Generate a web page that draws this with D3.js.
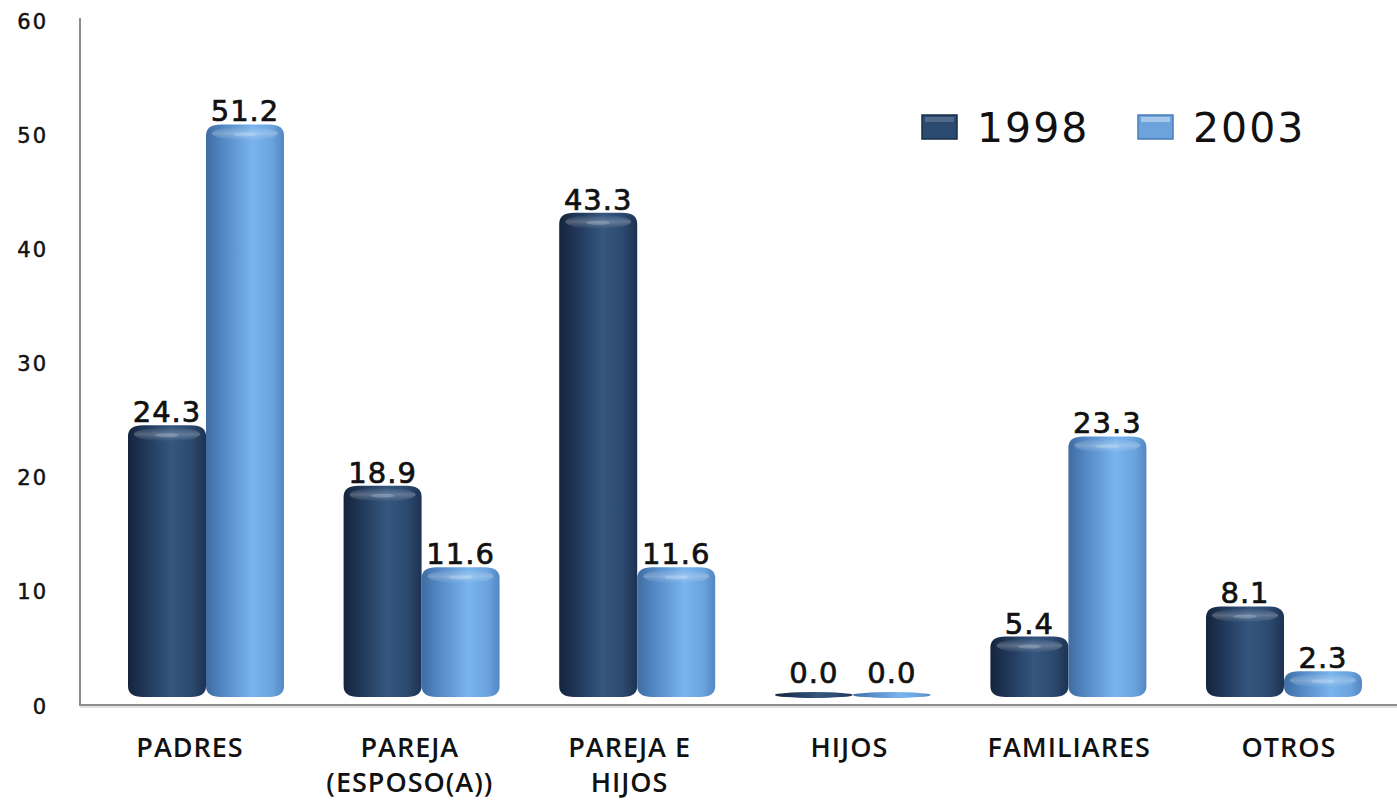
<!DOCTYPE html>
<html><head><meta charset="utf-8">
<script src="https://cdn.jsdelivr.net/npm/d3@7"></script>
<style>body{margin:0;background:#fff}svg{display:block}</style>
</head><body>
<svg id="c" width="1397" height="803"></svg>
<script>
const categories = [["PADRES"],["PAREJA","(ESPOSO(A))"],["PAREJA E","HIJOS"],["HIJOS"],["FAMILIARES"],["OTROS"]];
const series = ["1998","2003"];
const values1998 = [24.3, 18.9, 43.3, 0.0, 5.4, 8.1];
const values2003 = [51.2, 11.6, 11.6, 0.0, 23.3, 2.3];
const yTicks = [0,10,20,30,40,50,60];

const svg = d3.select("#c");
const defs = svg.append("defs");
function grad(id, stops){
  const g = defs.append("linearGradient").attr("id",id).attr("x1","0").attr("x2","1").attr("y1","0").attr("y2","0");
  stops.forEach(s=>g.append("stop").attr("offset",s[0]).attr("stop-color",s[1]));
}
grad("g0",[[0,"#14243c"],[0.25,"#223a5c"],[0.55,"#35567e"],[0.8,"#2d4b71"],[1,"#1d3252"]]);
grad("g1",[[0,"#3f6ca2"],[0.2,"#5186c2"],[0.6,"#7ab4ee"],[0.85,"#6aa3dd"],[1,"#5387c5"]]);
const topG = defs.append("linearGradient").attr("id","hl").attr("x1","0").attr("x2","0").attr("y1","0").attr("y2","1");
topG.append("stop").attr("offset",0).attr("stop-color","#fff").attr("stop-opacity",0.0);
topG.append("stop").attr("offset",0.5).attr("stop-color","#fff").attr("stop-opacity",0.25);
topG.append("stop").attr("offset",1).attr("stop-color","#fff").attr("stop-opacity",0.0);

const x = d3.scaleBand().domain(d3.range(categories.length)).range([98.2,1391.8]);
const xLabel = d3.scalePoint().domain(d3.range(categories.length)).range([190,1289]);
const xs = d3.scaleBand().domain(series).range([-78,78]);
const yAxisScale = d3.scaleLinear().domain([0,60]).range([706,21]);
const yBar = d3.scaleLinear().domain([0,60]).range([697,26]);

// axes lines
svg.append("line").attr("x1",80).attr("x2",80).attr("y1",18).attr("y2",706).attr("stroke","#8c8c8c").attr("stroke-width",2);
svg.append("line").attr("x1",80).attr("x2",1397).attr("y1",705).attr("y2",705).attr("stroke","#8c8c8c").attr("stroke-width",2);
svg.append("line").attr("x1",80).attr("x2",1397).attr("y1",707).attr("y2",707).attr("stroke","#d8d8d8").attr("stroke-width",1.5);

// y tick labels
svg.append("g").selectAll("text").data(yTicks).join("text")
  .attr("x",48).attr("y",d=>yAxisScale(d)).attr("dy","0.36em")
  .attr("text-anchor","end").attr("font-family","DejaVu Sans").attr("font-size",21)
  .attr("letter-spacing",2).attr("stroke","#111").attr("stroke-width",0.5)
  .attr("fill","#111").text(d=>d);

const data = [];
categories.forEach((c,i)=>{
  data.push({i, s:"1998", v:values1998[i], k:0});
  data.push({i, s:"2003", v:values2003[i], k:1});
});

function cyl(x0,w,top,bot){
  const rx = Math.min(15,w/2), ry = Math.min(11,(bot-top)/2);
  return `M${x0},${top+ry} Q${x0},${top} ${x0+rx},${top} L${x0+w-rx},${top} Q${x0+w},${top} ${x0+w},${top+ry} L${x0+w},${bot-ry} Q${x0+w},${bot} ${x0+w-rx},${bot} L${x0+rx},${bot} Q${x0},${bot} ${x0},${bot-ry} Z`;
}

const bars = svg.append("g");
data.forEach(d=>{
  const bx = x(d.i)+x.bandwidth()/2+xs(d.s), w = xs.bandwidth();
  const top = yBar(d.v), bot = 697;
  if (d.v <= 0.05){
    bars.append("ellipse").attr("cx",bx+w/2).attr("cy",695).attr("rx",w/2).attr("ry",3)
      .attr("fill",`url(#g${d.k})`);
  } else {
    bars.append("path").attr("d",cyl(bx,w,top,bot)).attr("fill",`url(#g${d.k})`);
    bars.append("ellipse").attr("cx",bx+w/2).attr("cy",top+9).attr("rx",w/2-6).attr("ry",7)
      .attr("fill","url(#hl)");
    bars.append("ellipse").attr("cx",bx+w/2).attr("cy",top+10).attr("rx",12).attr("ry",2)
      .attr("fill","#fff").attr("opacity",0.2);
  }
  svg.append("text").attr("x",bx+w/2).attr("y",(d.v<=0.05?683:top-3))
    .attr("text-anchor","middle").attr("font-family","DejaVu Sans").attr("font-size",29)
    .attr("letter-spacing",1).attr("stroke","#111").attr("stroke-width",0.7)
    .attr("fill","#111").text(d.v.toFixed(1));
});

// category labels
const cl = svg.append("g");
categories.forEach((lines,i)=>{
  const cx = xLabel(i);
  lines.forEach((ln,j)=>cl.append("text").attr("x",cx).attr("y",757+j*35)
    .attr("text-anchor","middle").attr("font-family","Open Sans").attr("font-size",27)
    .attr("font-weight",600).attr("letter-spacing",1).attr("fill","#111").text(ln));
});

// legend
const leg = svg.append("g");
const legX = [922,1138];
series.forEach((s,k)=>{
  leg.append("rect").attr("x",legX[k]).attr("y",115).attr("width",35).attr("height",24).attr("fill",k?"#6da3dc":"#2b4a70").attr("stroke",k?"#4a7db8":"#1a2d48").attr("stroke-width",1.5);
  leg.append("rect").attr("x",legX[k]+3).attr("y",117).attr("width",29).attr("height",5).attr("fill","#fff").attr("opacity",k?0.4:0.18);
  leg.append("text").attr("x",legX[k]+55).attr("y",142).attr("font-family","DejaVu Sans").attr("font-size",41)
    .attr("letter-spacing",2).attr("fill","#111").text(s);
});
</script>
</body></html>
